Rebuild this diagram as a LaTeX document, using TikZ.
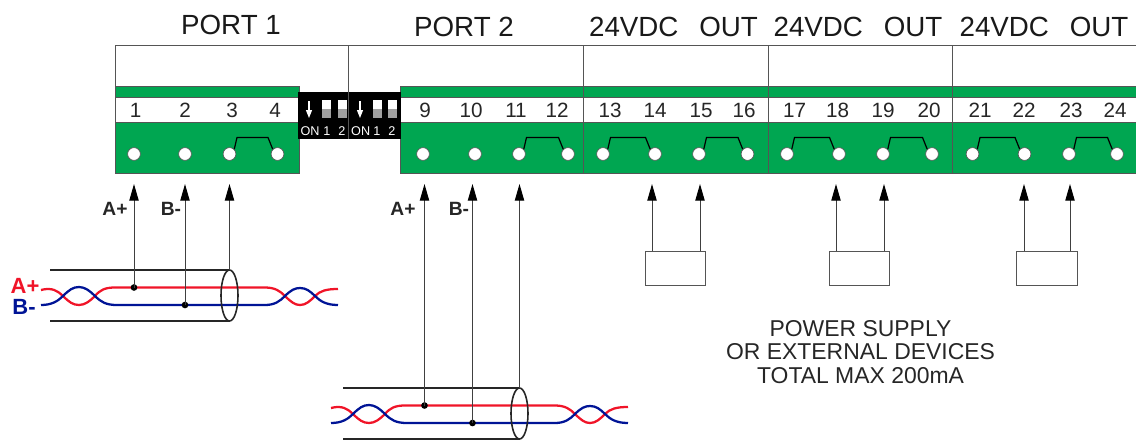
\documentclass[tikz,border=0pt]{standalone}
\usepackage{fontspec}
\setmainfont{Liberation Sans}
\usetikzlibrary{arrows.meta}
\definecolor{pcb}{RGB}{0,166,81}
\definecolor{edge}{RGB}{85,85,85}
\definecolor{wirered}{RGB}{240,20,40}
\definecolor{wireblue}{RGB}{0,20,150}
\definecolor{swgray}{RGB}{160,160,160}
\tikzset{
  x=0.75pt,y=-0.75pt,
  pcbfill/.style={fill=pcb,draw=edge,line width=0.7pt},
  band/.style={fill=white,draw=edge,line width=0.6pt},
  frameline/.style={draw=edge,line width=0.65pt},
  hole/.style={circle,draw=edge,fill=white,line width=0.5pt,minimum size=9.6pt,inner sep=0pt},
  jumper/.style={draw=black,line width=0.9pt},
  pin/.style={font=\fontsize{15.5}{17}\selectfont,text=black!85,inner sep=0pt},
  title/.style={font=\fontsize{20.8}{23}\selectfont,text=black!90,inner sep=0pt},
  sig/.style={font=\bfseries\fontsize{14.4}{16}\selectfont,text=black!85,inner sep=0pt},
  dip/.style={font=\fontsize{9.5}{10}\selectfont,text=white,inner sep=0pt},
  feed/.style={draw=black!75,line width=0.75pt,-{Triangle[length=12.5pt,width=7pt,black]}},
  devbox/.style={draw=edge,fill=white,line width=0.7pt,minimum width=45.5pt,minimum height=25.5pt,inner sep=0pt},
  shield/.style={draw=black!85,line width=1.2pt},
  wirea/.style={draw=wirered,line width=1.7pt},
  wireb/.style={draw=wireblue,line width=1.7pt},
  dot/.style={circle,fill=black,inner sep=0pt,minimum size=5pt},
  note/.style={font=\fontsize{17.2}{17.5}\selectfont,text=black!85,align=center,inner sep=0pt},
}
\newcommand{\twistcable}[4]{% #1 prefix, #2 dx, #3 dy, #4 shield start
  \begin{scope}[shift={(#2,#3)}]
    \draw[shield] (#4,270) -- (229,270);
    \draw[shield] (#4,321) -- (229,321);
    \draw[wirea] (41,290) .. controls (52,287) and (58,291) .. (63,296) .. controls (69,302) and (73,305) .. (79,305) .. controls (85,305) and (90,301) .. (95,296) .. controls (100,290) and (105,287.5) .. (115,287.5) -- (265,287.5) .. controls (275,287.5) and (280,291) .. (285,296) .. controls (291,302) and (295,305) .. (300,305) .. controls (306,305) and (310,301) .. (315,296) .. controls (320,291) and (326,289) .. (338,289);
    \draw[wireb] (41,305) .. controls (52,305) and (58,301) .. (63,296) .. controls (69,290) and (73,287) .. (79,287) .. controls (85,287) and (90,291) .. (95,296) .. controls (101,302) and (106,305) .. (117,305) -- (265,305) .. controls (275,305) and (280,301) .. (285,296) .. controls (291,290) and (295,288) .. (300,288) .. controls (306,288) and (310,291) .. (315,296) .. controls (320,301) and (326,305) .. (338,305);
    \draw[shield] (229.5,295.5) ellipse [x radius=8.5,y radius=25.5];
    \coordinate (#1top) at (229.5,270);
  \end{scope}
}
\begin{document}
\begin{tikzpicture}
\useasboundingbox (0,0) rectangle (1136,440);
% frame above the terminal strip
\draw[frameline] (115,86) -- (115,45) -- (1136,45);
\draw[frameline] (348.7,45) -- (348.7,92);
% left block
\draw[pcbfill] (115,86) rectangle (299,173);
\draw[band] (115,97) rectangle (299,122);
% right block
\draw[pcbfill] (400,86) rectangle (1137,173);
\draw[band] (400,97) rectangle (1137,122);
% group dividers
\foreach \dx in {583.7,768,952}{\draw[frameline] (\dx,45) -- (\dx,173);}
% DIP switches
\fill[black] (298,92) rectangle (400.5,139);
\draw[edge,line width=0.5pt] (348.7,92) -- (348.7,139);
\foreach \sx in {322,337.7,373,388}{
  \fill[white] (\sx,100) rectangle (\sx+9,109);
  \fill[swgray] (\sx,109) rectangle (\sx+9,118.3);
}
\foreach \ax in {309,360}{
  \draw[white,line width=0.9pt,-{Triangle[length=6pt,width=4.5pt]}] (\ax,101) -- (\ax,118);
}
\node[dip] (don1) at (310,131) {ON};
\node[dip] (dn1a) at (327,131) {1};
\node[dip] (dn2a) at (342,131) {2};
\node[dip] (don2) at (360.7,131) {ON};
\node[dip] (dn1b) at (377,131) {1};
\node[dip] (dn2b) at (392,131) {2};
% pin numbers
\foreach \n/\px in {1/135.5,2/185,3/232,4/275,9/425,10/471,11/516,12/557,13/610,14/655,15/701,16/744,17/794.5,18/837.5,19/883,20/929,21/980,22/1024,23/1071,24/1115}{
  \node[pin] (p\n) at (\px,110) {\n};
}
% terminal holes
\foreach \n/\px in {1/134,2/185,3/229.5,4/277.5,9/423,10/475,11/519,12/568,13/603,14/655,15/699,16/747.5,17/787,18/839,19/883,20/932,21/972.5,22/1024.5,23/1069,24/1117}{
  \node[hole] (h\n) at (\px,154) {};
}
% jumpers
\foreach \a/\b in {3/4,11/12,13/14,15/16,17/18,19/20,21/22,23/24}{
  \path (h\a) ++(7.5,-16.5) coordinate (ja\a);
  \path (h\b) ++(-9.5,-16.5) coordinate (jb\a);
  \draw[jumper] (h\a.north east) -- (ja\a) -- (jb\a) -- (h\b.north west);
}
% titles
\node[title] (t1) at (231,25) {PORT 1};
\node[title] (t2) at (464,27) {PORT 2};
\node[title] (t3) at (673.5,27) {24VDC\hspace{0.75em}OUT};
\node[title] (t4) at (858,27) {24VDC\hspace{0.75em}OUT};
\node[title] (t5) at (1044,27) {24VDC\hspace{0.75em}OUT};
% cables
\twistcable{ca}{0}{0}{50}
\twistcable{cb}{290}{118}{53}
\node[dot] (ja) at (134,287.5) {};
\node[dot] (jb) at (185,305) {};
\node[dot] (jc) at (424.5,405.5) {};
\node[dot] (jd) at (472.5,423) {};
% arrow tip positions
\foreach \n/\px in {a/134,b/185,c/229.5,d/424.5,e/472.5,f/519.5,g/652,h/700,i/836,j/884,k/1024,l/1070}{
  \coordinate (tip\n) at (\px,184);
}
\draw[feed] (ja.center) -- (tipa);
\draw[feed] (jb.center) -- (tipb);
\draw[feed] (catop) -- (tipc);
\draw[feed] (jc.center) -- (tipd);
\draw[feed] (jd.center) -- (tipe);
\draw[feed] (cbtop) -- (tipf);
% devices
\node[devbox] (d1) at (675.5,268) {};
\node[devbox] (d2) at (859.5,268) {};
\node[devbox] (d3) at (1047,268) {};
\draw[feed] (tipg |- d1.north) -- (tipg);
\draw[feed] (tiph |- d1.north) -- (tiph);
\draw[feed] (tipi |- d2.north) -- (tipi);
\draw[feed] (tipj |- d2.north) -- (tipj);
\draw[feed] (tipk |- d3.north) -- (tipk);
\draw[feed] (tipl |- d3.north) -- (tipl);
% signal labels
\node[sig] (la1) at (115,209) {A+};
\node[sig] (lb1) at (171,209) {B-};
\node[sig] (la2) at (403,209) {A+};
\node[sig] (lb2) at (459,209) {B-};
\node[font=\bfseries\fontsize{16.5}{18}\selectfont,text=wirered,inner sep=0pt] (ca1) at (25,286) {A+};
\node[font=\bfseries\fontsize{16.5}{18}\selectfont,text=wireblue,inner sep=0pt] (cb1) at (24,307) {B-};
% note
\node[note] (n) at (860.5,352) {POWER SUPPLY\\OR EXTERNAL DEVICES\\TOTAL MAX 200mA};
\end{tikzpicture}
\end{document}
